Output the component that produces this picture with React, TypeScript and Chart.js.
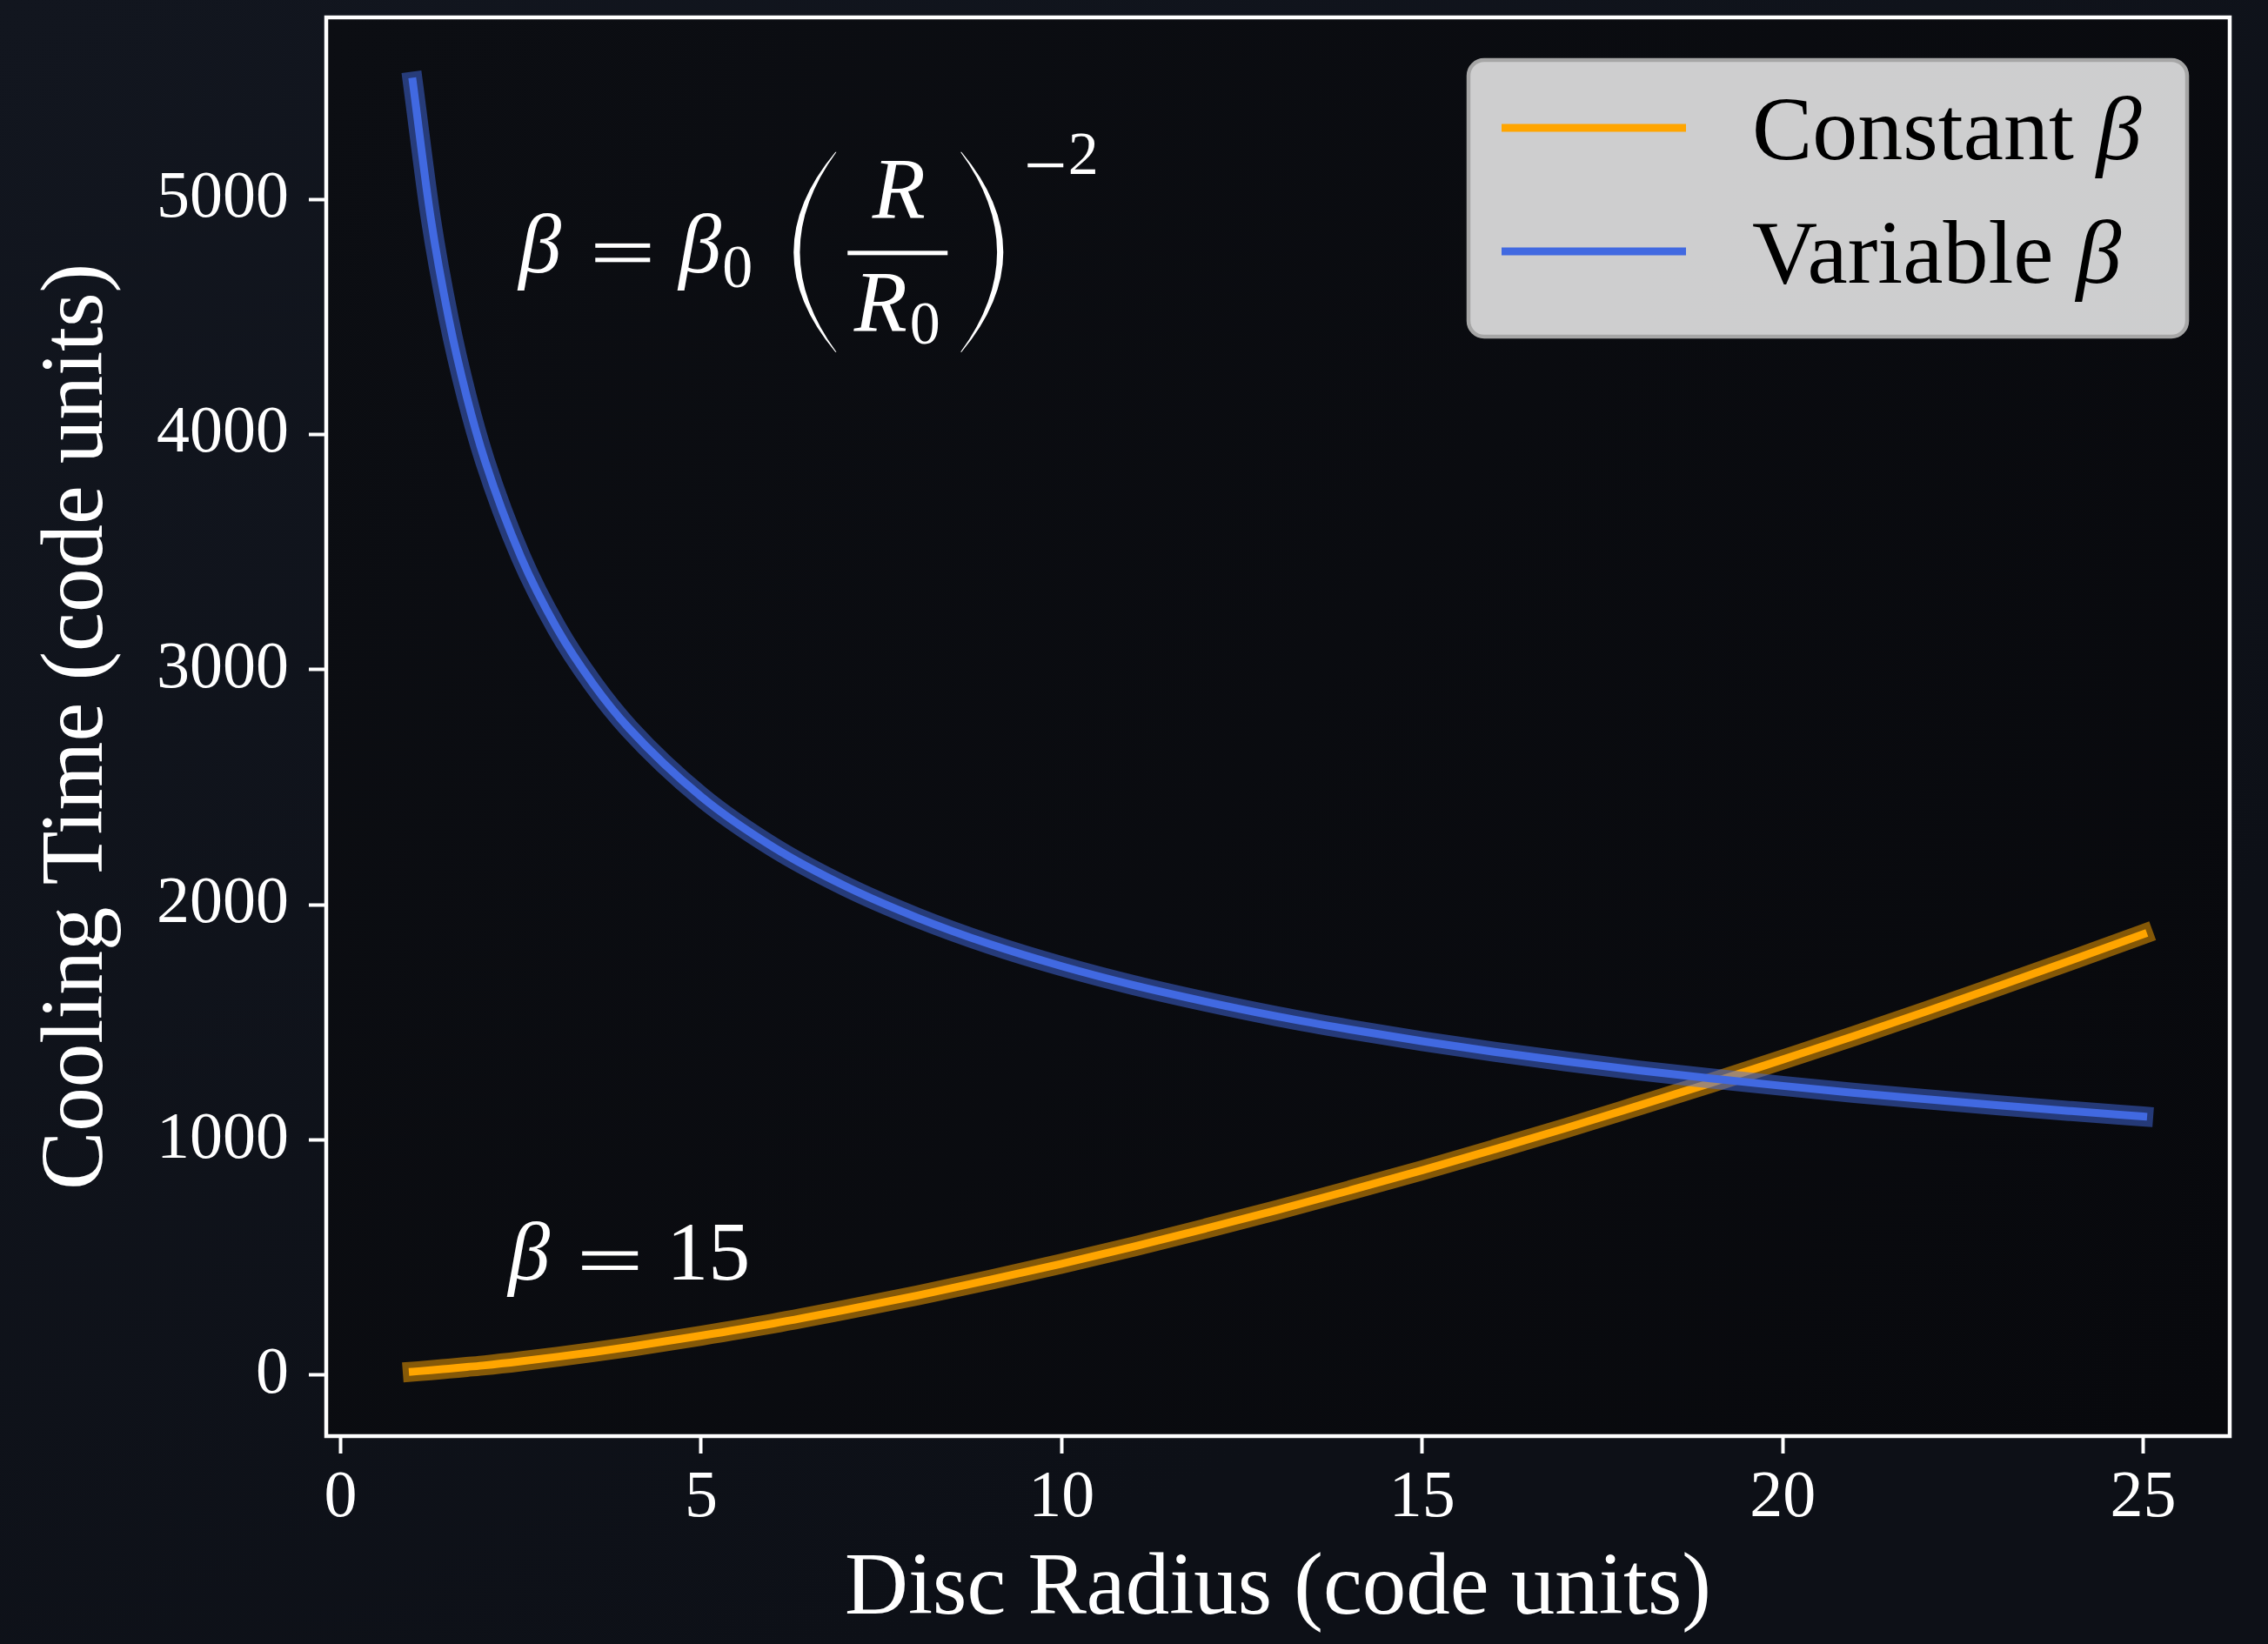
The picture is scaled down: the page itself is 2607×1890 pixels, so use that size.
import React, { useEffect, useRef } from "react";
import { Chart, registerables } from "chart.js";

Chart.register(...registerables);

// ---- data ----
const RADIUS = [1, 1.25, 1.5, 1.75, 2, 2.5, 3, 3.5, 4, 5, 6, 7, 8, 9, 10, 11, 12, 13, 14, 15, 16, 17, 18, 19, 20, 21, 22, 23, 24, 25];
const CONSTANT_BETA = [15, 21, 28, 35, 42, 59, 78, 98, 120, 168, 220, 278, 339, 405, 474, 547, 624, 703, 786, 871, 960, 1051, 1146, 1242, 1342, 1443, 1548, 1655, 1764, 1875];
const VARIABLE_BETA = [5500, 4919, 4491, 4158, 3889, 3479, 3175, 2940, 2750, 2460, 2245, 2079, 1945, 1833, 1739, 1658, 1588, 1525, 1470, 1420, 1375, 1334, 1296, 1262, 1230, 1200, 1173, 1147, 1123, 1100];
const SERIES_LABELS = ["Constant", "Variable"];
const X_TICKS = [0, 5, 10, 15, 20, 25];
const Y_TICKS = [0, 1000, 2000, 3000, 4000, 5000];
const X_RANGE = [-0.2, 26.2];
const Y_RANGE = [-259, 5773];
const X_TITLE = "Disc Radius (code units)";
const Y_TITLE = "Cooling Time (code units)";
const FORMULA_POS = [2.5, 4690];
const BETA15_POS = [2.3, 405];

const FONT = '"Liberation Serif", "DejaVu Serif", serif';
const ORANGE = "#FFA500";
const BLUE = "#4169E1";

const pts = (ys: number[]) => RADIUS.map((x, i) => ({ x, y: ys[i] }));

function crescent(ctx: CanvasRenderingContext2D, xa: number, xb: number, top: number, bottom: number, left: boolean, thick: number) {
  const mid = (top + bottom) / 2;
  const sign = left ? 1 : -1;
  const cOuter = 2 * xa - xb;
  const cInner = 2 * (xa + sign * thick) - xb;
  ctx.beginPath();
  ctx.moveTo(xb, top);
  ctx.quadraticCurveTo(cOuter, mid, xb, bottom);
  ctx.lineTo(xb + sign * 1.2, bottom);
  ctx.quadraticCurveTo(cInner + sign * 1.2, mid, xb + sign * 1.2, top);
  ctx.closePath();
  ctx.fill();
}

function equals(ctx: CanvasRenderingContext2D, x: number, y: number, w: number) {
  // y: baseline
  ctx.fillRect(x, y - 33, w, 5);
  ctx.fillRect(x, y - 16.5, w, 5);
}

const decorPlugin = {
  id: "decor",
  beforeDraw(chart: any) {
    const { ctx, width, height, chartArea: a } = chart;
    ctx.save();
    const g = ctx.createLinearGradient(0, 0, width * 0.4, height);
    g.addColorStop(0, "#12161f");
    g.addColorStop(1, "#0d1017");
    ctx.fillStyle = g;
    ctx.fillRect(0, 0, width, height);
    const g2 = ctx.createLinearGradient(a.left, a.top, a.right, a.bottom);
    g2.addColorStop(0, "#0c0e13");
    g2.addColorStop(1, "#08090d");
    ctx.fillStyle = g2;
    ctx.fillRect(a.left, a.top, a.right - a.left, a.bottom - a.top);
    ctx.restore();
  },
  afterDraw(chart: any) {
    const { ctx, chartArea: a } = chart;
    const sx = chart.scales.x;
    const sy = chart.scales.y;
    ctx.save();
    // spines
    ctx.strokeStyle = "#ffffff";
    ctx.lineWidth = 4.5;
    ctx.strokeRect(a.left, a.top, a.right - a.left, a.bottom - a.top);

    // annotation: beta = 15
    ctx.fillStyle = "#ffffff";
    ctx.textBaseline = "alphabetic";
    ctx.textAlign = "center";
    const bx = sx.getPixelForValue(BETA15_POS[0]);
    const by = sy.getPixelForValue(BETA15_POS[1]);
    ctx.font = `italic 96px ${FONT}`;
    ctx.fillText("β", bx + 26, by);
    equals(ctx, bx + 87, by, 64);
    ctx.font = `96px ${FONT}`;
    ctx.fillText("15", bx + 232, by);

    // annotation: formula
    const ax = sx.getPixelForValue(FORMULA_POS[0]);
    const ay = sy.getPixelForValue(FORMULA_POS[1]);
    ctx.font = `italic 98px ${FONT}`;
    ctx.fillText("β", ax + 22, ay);
    equals(ctx, ax + 85.5, ay, 63);
    ctx.font = `italic 98px ${FONT}`;
    ctx.fillText("β", ax + 206, ay);
    ctx.font = `70px ${FONT}`;
    ctx.fillText("0", ax + 249, ay + 17);
    crescent(ctx, ax + 313.5, ax + 361.5, ay - 138, ay + 92, true, 6);
    ctx.fillRect(ax + 375.5, ay - 24.5, 115, 5);
    ctx.font = `italic 100px ${FONT}`;
    ctx.fillText("R", ax + 434.5, ay - 63);
    ctx.fillText("R", ax + 413.5, ay + 67);
    ctx.font = `70px ${FONT}`;
    ctx.fillText("0", ax + 464.5, ay + 82);
    crescent(ctx, ax + 554.5, ax + 506.5, ay - 138, ay + 92, false, 6);
    ctx.fillRect(ax + 582.5, ay - 125, 41, 4.5);
    ctx.font = `70px ${FONT}`;
    ctx.fillText("2", ax + 646.5, ay - 113);

    // legend
    const bw = 826, bh = 318;
    const lx = a.right - 49 - bw;
    const ly = a.top + 49;
    ctx.beginPath();
    ctx.roundRect(lx, ly, bw, bh, 18);
    ctx.fillStyle = "rgba(255,255,255,0.8)";
    ctx.fill();
    ctx.lineWidth = 4.5;
    ctx.strokeStyle = "#a6a6a6";
    ctx.stroke();
    const items = chart.data.datasets.filter((d: any) => !d.isOutline);
    items.forEach((d: any, i: number) => {
      const y = ly + 78 + i * 142;
      ctx.strokeStyle = d.borderColor;
      ctx.lineWidth = 9;
      ctx.lineCap = "butt";
      ctx.beginPath();
      ctx.moveTo(lx + 38, y);
      ctx.lineTo(lx + 250, y);
      ctx.stroke();
      ctx.fillStyle = "#000000";
      ctx.textAlign = "left";
      ctx.font = `104px ${FONT}`;
      const t = d.label + " ";
      ctx.fillText(t, lx + 326, y + 36);
      const w = ctx.measureText(t).width;
      ctx.font = `italic 104px ${FONT}`;
      ctx.fillText("β", lx + 326 + w, y + 36);
    });
    ctx.restore();
  },
};

export default function App() {
  const ref = useRef<HTMLCanvasElement | null>(null);
  useEffect(() => {
    const canvas = ref.current;
    if (!canvas) return;
    const tickFont = { family: FONT, size: 76 };
    const titleFont = { family: FONT, size: 101 };
    const lineBase = { pointRadius: 0, cubicInterpolationMode: "monotone", fill: false, borderCapStyle: "square", borderJoinStyle: "round" };
    const chart = new Chart(canvas, {
      type: "line",
      data: {
        datasets: [
          { ...lineBase, label: SERIES_LABELS[0], data: pts(CONSTANT_BETA), borderColor: ORANGE, borderWidth: 9, order: 2 } as any,
          { ...lineBase, label: SERIES_LABELS[1], data: pts(VARIABLE_BETA), borderColor: BLUE, borderWidth: 9, order: 0 } as any,
          { ...lineBase, label: "outline0", isOutline: true, data: pts(CONSTANT_BETA), borderColor: "rgba(255,165,0,0.5)", borderWidth: 23, order: 3 } as any,
          { ...lineBase, label: "outline1", isOutline: true, data: pts(VARIABLE_BETA), borderColor: "rgba(65,105,225,0.5)", borderWidth: 23, order: 1 } as any,
        ],
      },
      options: {
        animation: false,
        responsive: false,
        devicePixelRatio: 1,
        events: [],
        layout: { padding: { top: 20, right: 44, left: 0, bottom: 0 } },
        plugins: { legend: { display: false }, tooltip: { enabled: false } },
        scales: {
          x: {
            type: "linear",
            min: X_RANGE[0],
            max: X_RANGE[1],
            afterBuildTicks: (s: any) => { s.ticks = X_TICKS.map((v) => ({ value: v })); },
            afterFit: (s: any) => { s.height = 239; s.paddingLeft = 0; s.paddingRight = 0; },
            grid: { drawOnChartArea: false, drawTicks: true, tickLength: 20, tickWidth: 4, tickColor: "#ffffff" },
            border: { display: false },
            ticks: { color: "#ffffff", font: tickFont, padding: 6, maxRotation: 0, autoSkip: false, callback: (v: any) => String(v) },
            title: { display: true, text: X_TITLE, color: "#ffffff", font: titleFont, padding: { top: 0, bottom: 1 } },
          },
          y: {
            type: "linear",
            min: Y_RANGE[0],
            max: Y_RANGE[1],
            afterBuildTicks: (s: any) => { s.ticks = Y_TICKS.map((v) => ({ value: v })); },
            afterFit: (s: any) => { s.width = 375; s.paddingTop = 0; s.paddingBottom = 0; },
            grid: { drawOnChartArea: false, drawTicks: true, tickLength: 20, tickWidth: 4, tickColor: "#ffffff" },
            border: { display: false },
            ticks: { color: "#ffffff", font: tickFont, padding: 23, autoSkip: false, callback: (v: any) => String(v) },
            title: { display: true, text: Y_TITLE, color: "#ffffff", font: titleFont, padding: { top: 30, bottom: 0 } },
          },
        },
      } as any,
      plugins: [decorPlugin],
    });
    return () => chart.destroy();
  }, []);
  return (
    <div style={{ position: "fixed", left: 0, top: 0, width: 2607, height: 1890, overflow: "hidden" }}>
      <canvas ref={ref} width={2607} height={1890} style={{ display: "block", width: 2607, height: 1890 }} />
    </div>
  );
}
